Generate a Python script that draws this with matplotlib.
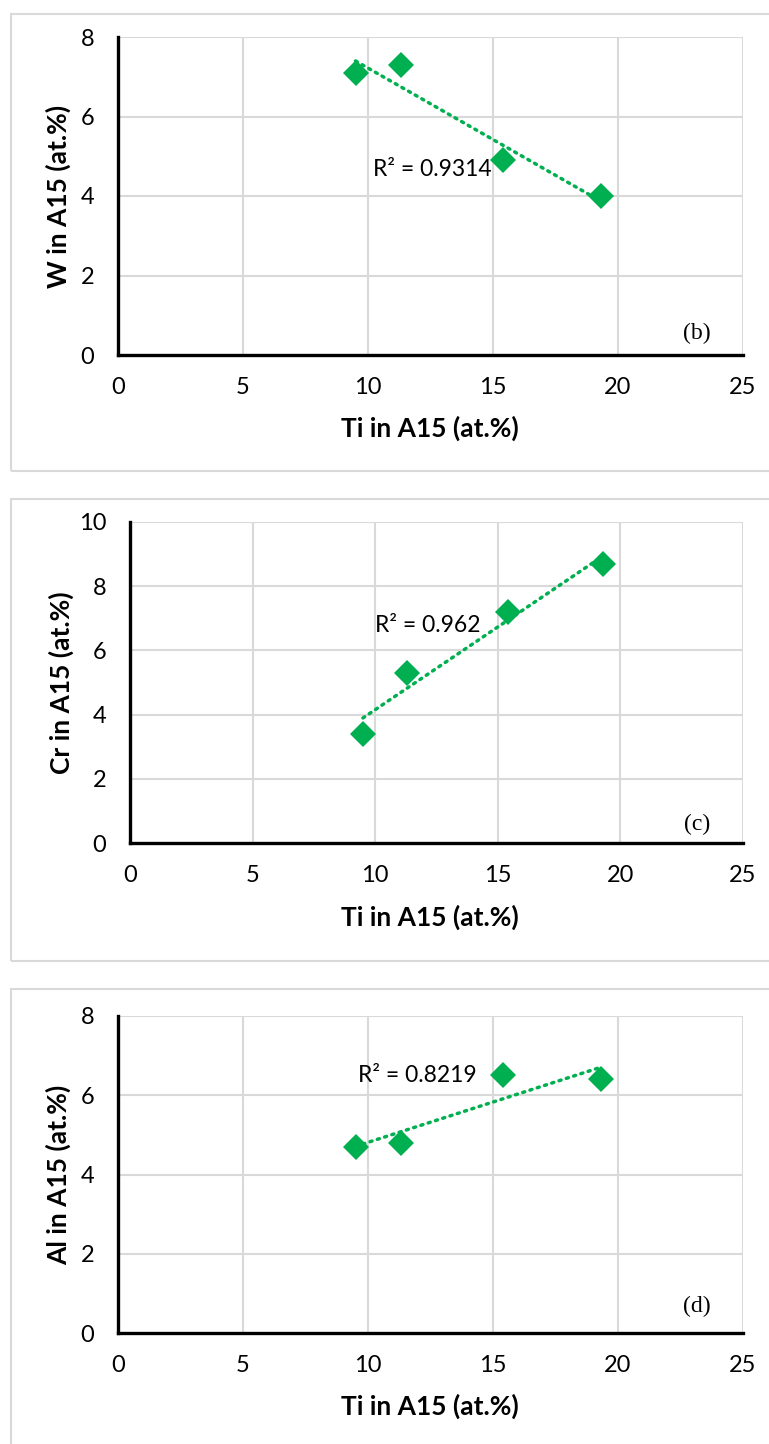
import numpy as np
import matplotlib
matplotlib.use("Agg")
import matplotlib.pyplot as plt
from matplotlib.patches import Rectangle

ti = [9.5, 11.3, 15.4, 19.3]
w_vals = [7.1, 7.3, 4.9, 4.0]
cr_vals = [3.4, 5.3, 7.2, 8.7]
al_vals = [4.7, 4.8, 6.5, 6.4]
ylabels = ["W in A15 (at.%)", "Cr in A15 (at.%)", "Al in A15 (at.%)"]
r2_texts = ["R² = 0.9314", "R² = 0.962", "R² = 0.8219"]
panel_tags = ["(b)", "(c)", "(d)"]
ymaxes = [8, 10, 8]
xticks = [0, 5, 10, 15, 20, 25]

W, H = 769, 1444
fig = plt.figure(figsize=(W / 100, H / 100), dpi=100)
fig.patch.set_facecolor("white")

GREEN = "#00B050"
GRID = "#D9D9D9"
FONT = "Lato"

def fx(px):
    return px / W

def fy(py):
    return 1 - py / H

# panel frames (px): left, top, right, bottom
frames = [(11, 14, 772, 471), (11, 499, 772, 961), (11, 989, 772, 1450)]
for (l, t, r, b) in frames:
    fig.patches.append(Rectangle((fx(l), fy(b)), fx(r - l), (b - t) / H,
                                 transform=fig.transFigure, fill=False,
                                 edgecolor="#D9D9D9", linewidth=1.5))

# axes (px): left, top, right, bottom
axes_px = [(118, 37, 743, 355), (130, 522, 743, 843), (118, 1016, 743, 1333)]
r2_pos = [(373, 170), (375, 625), (358, 1075)]
tag_pos = [(697, 333), (697, 824), (697, 1306)]
xlab_y = [428, 917, 1406]
ylab_x = [58, 61, 58]
series = [w_vals, cr_vals, al_vals]

for i in range(3):
    l, t, r, b = axes_px[i]
    ax = fig.add_axes([fx(l), fy(b), fx(r - l), (b - t) / H])
    ax.set_xlim(0, 25)
    ax.set_ylim(0, ymaxes[i])
    ax.set_xticks(xticks)
    ax.set_yticks(np.arange(0, ymaxes[i] + 1, 2))
    ax.grid(True, color=GRID, linewidth=1.5, zorder=0.5)
    ax.set_axisbelow(True)
    for s in ["top", "right"]:
        ax.spines[s].set_visible(False)
    for s in ["left", "bottom"]:
        ax.spines[s].set_color("black")
        ax.spines[s].set_linewidth(2.4)
        ax.spines[s].set_zorder(1.5)
    ax.tick_params(length=0, labelsize=17)
    ax.tick_params(axis="x", pad=16)
    ax.tick_params(axis="y", pad=17)
    for lab in ax.get_xticklabels() + ax.get_yticklabels():
        lab.set_fontfamily(FONT)
    ys = series[i]
    coef = np.polyfit(ti, ys, 1)
    xf = np.array([min(ti), max(ti)])
    ax.plot(xf, np.polyval(coef, xf), color=GREEN, linewidth=2.5,
            linestyle=(0, (0.6, 1.6)), dash_capstyle="round", zorder=2)
    ax.plot(ti, ys, linestyle="none", marker="D", markersize=13,
            color=GREEN, markeredgewidth=0, zorder=3, clip_on=False)
    fig.text(fx(r2_pos[i][0]), fy(r2_pos[i][1]), r2_texts[i], fontsize=16.5,
             fontfamily=FONT, ha="left", va="center", color="black")
    fig.text(fx(tag_pos[i][0]), fy(tag_pos[i][1]), panel_tags[i], fontsize=17,
             fontfamily="Liberation Serif", ha="center", va="center")
    fig.text(fx(430), fy(xlab_y[i]), "Ti in A15 (at.%)", fontsize=19,
             fontweight="bold", fontfamily=FONT, ha="center", va="center")
    fig.text(fx(ylab_x[i]), (fy(t) + fy(b)) / 2, ylabels[i], fontsize=19,
             fontweight="bold", fontfamily=FONT, ha="center", va="center",
             rotation=90)

fig.savefig("out.png", dpi=100, facecolor="white")
